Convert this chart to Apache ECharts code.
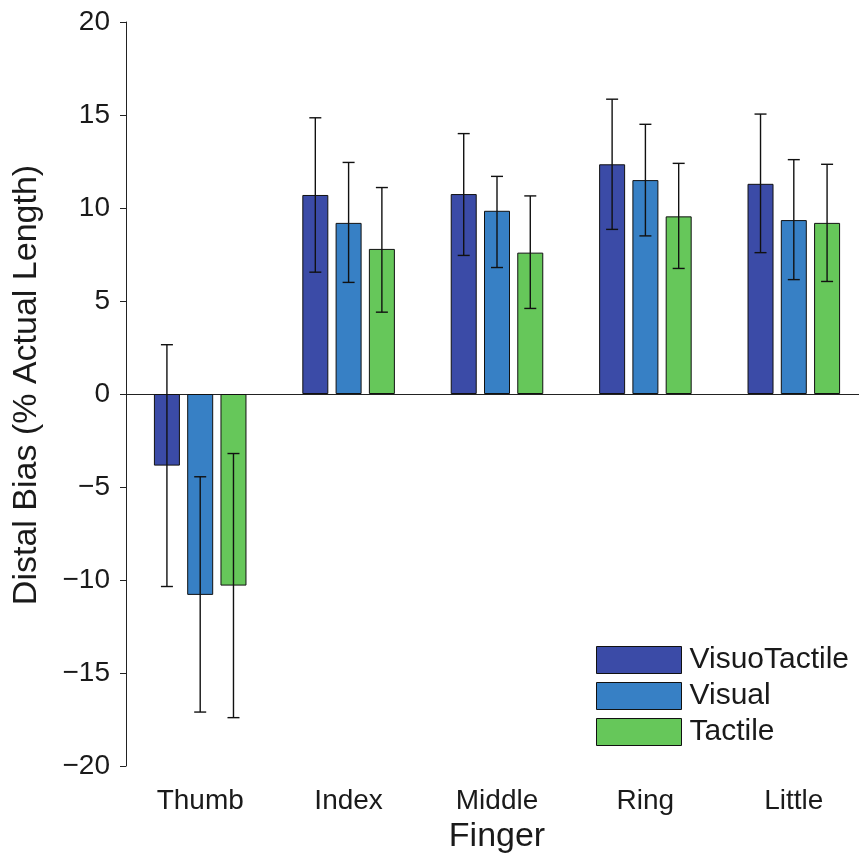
<!DOCTYPE html>
<html>
<head>
<meta charset="utf-8">
<script src="https://cdn.jsdelivr.net/npm/echarts@6/dist/echarts.min.js"></script>
<style>html,body{margin:0;padding:0;background:#fff}#c{width:859px;height:855px}</style>
</head>
<body>
<div id="c"></div>
<script>
const categories = ['Thumb', 'Index', 'Middle', 'Ring', 'Little'];
const seriesNames = ['VisuoTactile', 'Visual', 'Tactile'];
const visuoTactile = [-3.85, 10.7, 10.75, 12.35, 11.3];
const visual = [-10.8, 9.2, 9.85, 11.5, 9.35];
const tactile = [-10.3, 7.8, 7.6, 9.55, 9.2];
const visuoTactileLow = [-10.35, 6.55, 7.45, 8.85, 7.6];
const visuoTactileHigh = [2.65, 14.85, 14.0, 15.85, 15.05];
const visualLow = [-17.1, 6.0, 6.8, 8.5, 6.15];
const visualHigh = [-4.45, 12.45, 11.7, 14.5, 12.6];
const tactileLow = [-17.4, 4.4, 4.6, 6.75, 6.05];
const tactileHigh = [-3.2, 11.1, 10.65, 12.4, 12.35];
const yTicks = [-20, -15, -10, -5, 0, 5, 10, 15, 20];

const colors = ['#3b4ba7', '#3780c5', '#66c75a'];
const values = [visuoTactile, visual, tactile];
const lows = [visuoTactileLow, visualLow, tactileLow];
const highs = [visuoTactileHigh, visualHigh, tactileHigh];
const BAR_W = 26, GAP_PCT = 0.28;
const step = BAR_W * (1 + GAP_PCT);
const FONT = '"Liberation Sans", Arial, Helvetica, sans-serif';

const series = [];
values.forEach((v, si) => {
  const s = {
    name: seriesNames[si],
    type: 'bar',
    data: v,
    barWidth: BAR_W,
    barGap: (GAP_PCT * 100) + '%',
    itemStyle: { color: colors[si], borderColor: '#111', borderWidth: 1 },
    z: 2
  };
  if (si === 0) {
    s.markLine = {
      silent: true, symbol: 'none', label: { show: false },
      lineStyle: { color: '#222', width: 1, type: 'solid' },
      data: [{ yAxis: 0 }], z: 1
    };
  }
  series.push(s);
});
values.forEach((v, si) => {
  const data = categories.map((c, i) => [i, lows[si][i], highs[si][i]]);
  series.push({
    type: 'custom',
    name: seriesNames[si] + ' err',
    silent: true,
    z: 5,
    encode: { x: 0, y: [1, 2] },
    data: data,
    renderItem: function (params, api) {
      const i = api.value(0);
      const lo = api.coord([i, api.value(1)]);
      const hi = api.coord([i, api.value(2)]);
      const x = lo[0] + (si - 1) * step;
      const cw = 6;
      const st = { stroke: '#111', lineWidth: 1.4 };
      return {
        type: 'group',
        children: [
          { type: 'line', shape: { x1: x, y1: lo[1], x2: x, y2: hi[1] }, style: st },
          { type: 'line', shape: { x1: x - cw, y1: lo[1], x2: x + cw, y2: lo[1] }, style: st },
          { type: 'line', shape: { x1: x - cw, y1: hi[1], x2: x + cw, y2: hi[1] }, style: st }
        ]
      };
    }
  });
});

const chart = echarts.init(document.getElementById('c'), null, { renderer: 'canvas' });
chart.setOption({
  animation: false,
  backgroundColor: '#fff',
  textStyle: { fontFamily: FONT },
  grid: { left: 126, top: 22, width: 742, height: 744, outerBoundsMode: 'none', containLabel: false },
  legend: {
    data: seriesNames,
    orient: 'vertical',
    left: 596, top: 645,
    padding: 0,
    itemWidth: 85, itemHeight: 27, itemGap: 6,
    icon: 'rect',
    itemStyle: { borderColor: '#111', borderWidth: 1 },
    textStyle: { fontFamily: FONT, fontSize: 30, color: '#1a1a1a', lineHeight: 27, padding: [0, 0, 0, 3] },
    selectedMode: false
  },
  xAxis: {
    type: 'category',
    data: categories,
    name: 'Finger',
    nameLocation: 'middle',
    nameGap: 54,
    nameTextStyle: { fontFamily: FONT, fontSize: 34, color: '#1a1a1a' },
    axisLine: { lineStyle: { color: '#222', width: 1 } },
    axisTick: { alignWithLabel: true, length: 7, lineStyle: { color: '#222' } },
    axisLabel: { fontFamily: FONT, fontSize: 28, color: '#1a1a1a', margin: 21 },
    splitLine: { show: false }
  },
  yAxis: {
    type: 'value',
    min: yTicks[0], max: yTicks[yTicks.length - 1], interval: 5,
    name: 'Distal Bias (% Actual Length)',
    nameLocation: 'middle',
    nameGap: 82,
    nameTextStyle: { fontFamily: FONT, fontSize: 34, color: '#1a1a1a', padding: [0, 0, 0, 18] },
    axisLine: { show: true, onZero: false, lineStyle: { color: '#222', width: 1 } },
    axisTick: { show: true, length: 6, lineStyle: { color: '#222' } },
    axisLabel: {
      fontFamily: FONT, fontSize: 28, color: '#1a1a1a', margin: 16,
      formatter: v => String(v).replace('-', '\u2212')
    },
    splitLine: { show: false }
  },
  series: series
});
</script>
</body>
</html>
